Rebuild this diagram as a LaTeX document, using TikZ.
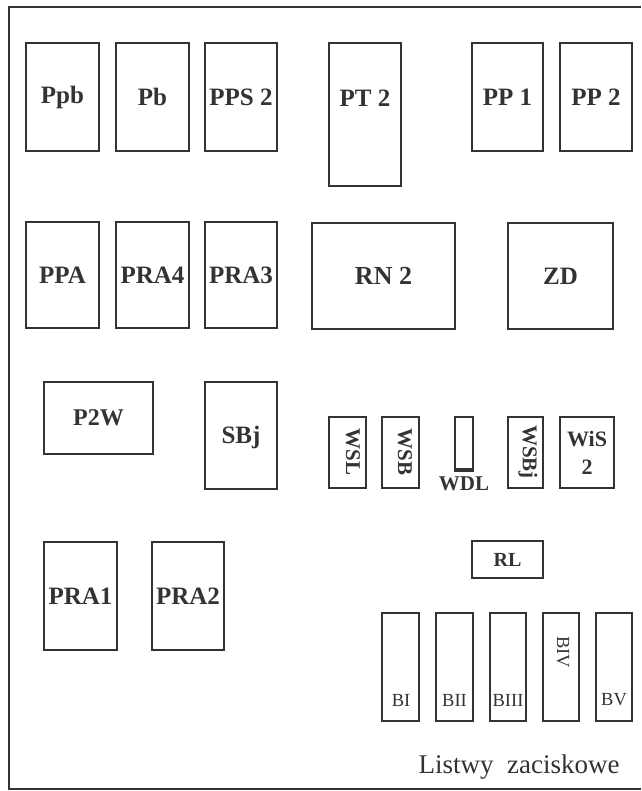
\documentclass[tikz,border=0pt]{standalone}
\usepackage{fontspec}
\setmainfont{Liberation Serif}
\definecolor{ink}{HTML}{333333}
\begin{document}
\begin{tikzpicture}[x=1pt,y=-1pt,
  box/.style={draw=ink, line width=1.6pt, inner sep=0pt, text=ink, font=\bfseries\fontsize{25}{30}\selectfont},
  lbl/.style={inner sep=0pt, text=ink},
  big/.style={font=\bfseries\fontsize{25}{30}\selectfont},
  mid/.style={font=\bfseries\fontsize{21}{26}\selectfont},
  small/.style={font=\fontsize{18.5}{20}\selectfont}]
\useasboundingbox (0,0) rectangle (641,791);
\draw[ink, line width=1.6pt] (641,7) -- (9,7) -- (9,789) -- (641,789);
% row 1
\node (ppb) [box, minimum width=73pt, minimum height=108pt] at (62.5,97) {Ppb};
\node (pb) [box, minimum width=73pt, minimum height=108pt] at (152.5,97) {Pb};
\node (pps2) [box, minimum width=72pt, minimum height=108pt] at (241,97) {PPS 2};
\node (pt2) [box, minimum width=72pt, minimum height=143pt] at (365,114.5) {};
\node (pt2l) [lbl, big] at (365,98) {PT 2};
\node (pp1) [box, minimum width=71pt, minimum height=108pt] at (507.5,97) {PP 1};
\node (pp2) [box, minimum width=72pt, minimum height=108pt] at (596,97) {PP 2};
% row 2
\node (ppa) [box, minimum width=73pt, minimum height=106pt] at (62.5,275) {PPA};
\node (pra4) [box, minimum width=73pt, minimum height=106pt] at (152.5,275) {PRA4};
\node (pra3) [box, minimum width=72pt, minimum height=106pt] at (241,275) {PRA3};
\node (rn2) [box, minimum width=143pt, minimum height=106pt, font=\bfseries\fontsize{26}{30}\selectfont] at (383.5,276) {RN 2};
\node (zd) [box, minimum width=105pt, minimum height=106pt] at (560.5,276) {ZD};
% row 3
\node (p2w) [box, minimum width=109pt, minimum height=72pt, font=\bfseries\fontsize{24}{30}\selectfont] at (98.5,418) {P2W};
\node (sbj) [box, minimum width=72pt, minimum height=107pt] at (241,435.5) {};
\node (sbjl) [lbl, big] at (241,437) {SBj};
\node (wsl) [box, minimum width=37pt, minimum height=71pt] at (347.5,452.5) {};
\node (wsll) [lbl, mid, rotate=-90] at (353,452) {WSL};
\node (wsb) [box, minimum width=37pt, minimum height=71pt] at (400.5,452.5) {};
\node (wsbl) [lbl, mid, rotate=-90] at (405,452) {WSB};
\node (wdl) [box, minimum width=18pt, minimum height=54pt] at (464,444) {};
\draw[ink, line width=3.5pt] ([yshift=1.8pt]wdl.south west) -- ([yshift=1.8pt]wdl.south east);
\node (wdll) [lbl, mid] at (464,484) {WDL};
\node (wsbj) [box, minimum width=35pt, minimum height=71pt] at (525.5,452.5) {};
\node (wsbjl) [lbl, mid, rotate=-90] at (528,452) {WSBj};
\node (wis2) [box, minimum width=54pt, minimum height=71pt, align=center, font=\bfseries\fontsize{22}{28}\selectfont] at (587,452.5) {WiS\\2};
% row 4
\node (pra1) [box, minimum width=73pt, minimum height=108pt] at (80.5,596) {PRA1};
\node (pra2) [box, minimum width=72pt, minimum height=108pt] at (188,596) {PRA2};
\node (rl) [box, minimum width=71pt, minimum height=37pt, font=\bfseries\fontsize{20}{24}\selectfont] at (507.5,559.5) {RL};
% terminal strips
\node (bi) [box, minimum width=37pt, minimum height=108pt] at (400.5,667) {};
\node (bii) [box, minimum width=37pt, minimum height=108pt] at (454.5,667) {};
\node (biii) [box, minimum width=36pt, minimum height=108pt] at (508,667) {};
\node (biv) [box, minimum width=36pt, minimum height=108pt] at (561,667) {};
\node (bv) [box, minimum width=36pt, minimum height=108pt] at (614,667) {};
\node (bil) [lbl, small] at (401,700) {BI};
\node (biil) [lbl, small] at (454.5,700) {BII};
\node (biiil) [lbl, small] at (508,700) {BIII};
\node (bivl) [lbl, small, rotate=-90] at (563,652) {BIV};
\node (bvl) [lbl, small] at (614,700) {BV};
\node (list) [lbl, font=\fontsize{27}{30}\selectfont] at (519,767) {Listwy\ \ zaciskowe};
\end{tikzpicture}
\end{document}
